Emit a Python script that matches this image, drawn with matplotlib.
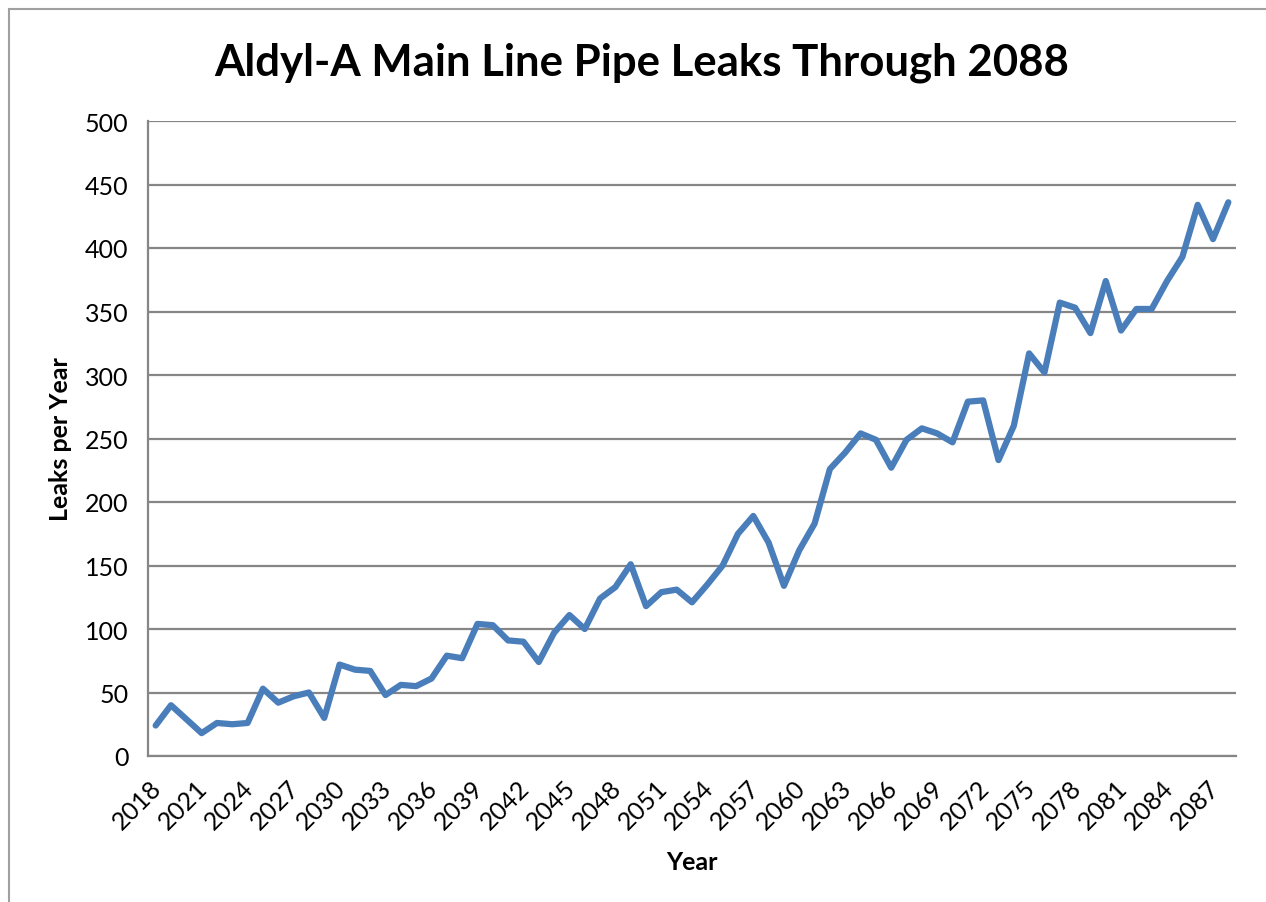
import matplotlib
matplotlib.use("Agg")
import matplotlib.pyplot as plt
from matplotlib.patches import Rectangle
from matplotlib.transforms import ScaledTranslation

# Leaks per year
years = list(range(2018, 2089))
leaks = [
    24, 40, 29, 18, 26, 25, 26, 53, 42, 47,
    50, 30, 72, 68, 67, 48, 56, 55, 61, 79,
    77, 104, 103, 91, 90, 74, 97, 111, 100, 124,
    133, 151, 118, 129, 131, 121, 135, 150, 175, 189,
    168, 134, 162, 183, 226, 239, 254, 249, 227, 249,
    258, 254, 247, 279, 280, 233, 260, 317, 302, 357,
    353, 333, 374, 335, 352, 352, 374, 393, 434, 407,
    436,
]
tick_years = years[::3]
y_ticks = [0, 50, 100, 150, 200, 250, 300, 350, 400, 450, 500]

line_color = "#4a7ebb"
grid_color = "#868686"

plt.rcParams["font.family"] = ["Lato", "DejaVu Sans"]

fig = plt.figure(figsize=(12.66, 9.03), dpi=100)
ax = fig.add_axes([148 / 1266, 1 - 757 / 903, (1236 - 148) / 1266, (757 - 122) / 903])

x = list(range(len(years)))
ax.plot(x, leaks, color=line_color, linewidth=4.5, solid_joinstyle="round",
        solid_capstyle="round", zorder=3)

ax.set_xlim(-0.5, len(years) - 0.5)
ax.set_ylim(0, 500)
ax.set_yticks(y_ticks)
ax.set_yticklabels([str(v) for v in y_ticks], fontsize=18)
ax.set_xticks(x[::3])
ax.set_xticklabels([str(y) for y in tick_years], fontsize=18, rotation=45,
                   ha="right", va="top", rotation_mode="anchor")
ax.tick_params(axis="both", length=0)
ax.tick_params(axis="y", pad=14)
ax.tick_params(axis="x", pad=14)

# nudge the slanted year labels left a little, as in the original
shift = ScaledTranslation(-6 / 100, 0, fig.dpi_scale_trans)
for lbl in ax.get_xticklabels():
    lbl.set_transform(lbl.get_transform() + shift)

ax.grid(axis="y", color=grid_color, linewidth=1.6)
ax.set_axisbelow(True)
for side in ["top", "right"]:
    ax.spines[side].set_visible(False)
for side in ["left", "bottom"]:
    ax.spines[side].set_color(grid_color)
    ax.spines[side].set_linewidth(1.6)

ax.set_ylabel("Leaks per Year", fontsize=18, fontweight="bold")
ax.set_xlabel("Year", fontsize=18, fontweight="bold")
ax.yaxis.set_label_coords((72 - 148) / 1088, 0.5)
ax.xaxis.set_label_coords((692 - 148) / 1088, (757 - 851) / 635)

fig.text(642 / 1266, 1 - 63 / 903, "Aldyl-A Main Line Pipe Leaks Through 2088",
         fontsize=31.5, fontweight="bold", ha="center", va="center")

# outer chart border
fig.add_artist(Rectangle((9 / 1266, -0.05), 1.2, 1 - 10 / 903 + 0.05,
                         transform=fig.transFigure, fill=False,
                         edgecolor="#a0a0a0", linewidth=1.5))

fig.savefig("out.png", dpi=100)
